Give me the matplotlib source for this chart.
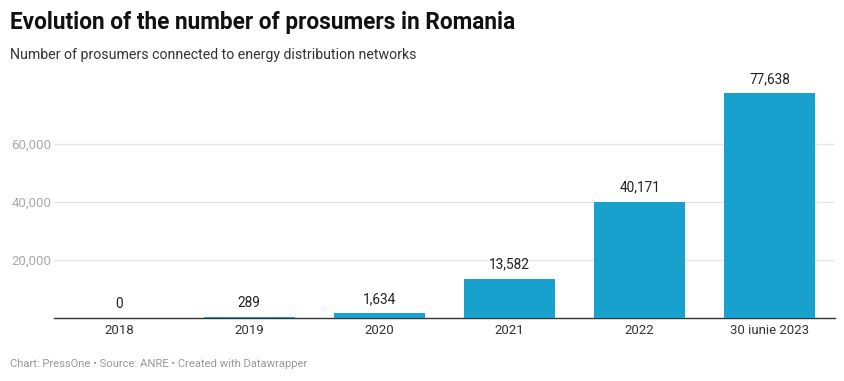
import matplotlib
matplotlib.use("Agg")
import matplotlib.pyplot as plt
from matplotlib.ticker import FuncFormatter

categories = ["2018", "2019", "2020", "2021", "2022", "30 iunie 2023"]
values = [0, 289, 1634, 13582, 40171, 77638]
yticks = [20000, 40000, 60000]

plt.rcParams['font.family'] = ['Roboto', 'DejaVu Sans']

W, H = 845, 381
fig = plt.figure(figsize=(W / 100, H / 100), dpi=100)
fig.patch.set_facecolor("white")

left, right = 54, 835
bottom_px, top_px = 318, 86
ax = fig.add_axes([left / W, 1 - bottom_px / H, (right - left) / W, (bottom_px - top_px) / H])

x = list(range(len(categories)))
bars = ax.bar(x, values, width=0.7, color="#18a1cd", zorder=3)
ax.set_xlim(-0.5, len(categories) - 0.5)
ax.set_ylim(0, 80000)

ax.set_yticks(yticks)
ax.yaxis.set_major_formatter(FuncFormatter(lambda v, p: f"{int(v):,}"))
ax.grid(axis="y", color="#e6e6e6", linewidth=1, zorder=0)
ax.tick_params(axis="y", length=0, labelsize=9.5, labelcolor="#aaaaaa", pad=2)
ax.set_xticks(x)
ax.set_xticklabels(categories)
ax.tick_params(axis="x", length=0, labelsize=9.5, labelcolor="#333333", pad=4)

for s in ["top", "right", "left"]:
    ax.spines[s].set_visible(False)
ax.spines["bottom"].set_color("#333333")
ax.spines["bottom"].set_linewidth(1)
ax.spines["bottom"].set_zorder(2)

for xi, v in zip(x, values):
    ax.annotate(f"{v:,}", (xi, v), xytext=(0, 5), textcoords="offset points",
                ha="center", va="bottom", fontsize=9.8, color="#222222")

fig.text(10 / W, 1 - 22 / H, "Evolution of the number of prosumers in Romania",
         fontsize=16.3, fontweight="bold", color="#111111", va="center", ha="left")
fig.text(10 / W, 1 - 55 / H, "Number of prosumers connected to energy distribution networks",
         fontsize=10.2, color="#333333", va="center", ha="left")
fig.text(10 / W, 1 - 364 / H, "Chart: PressOne \u2022 Source: ANRE \u2022 Created with Datawrapper",
         fontsize=8.1, color="#999999", va="center", ha="left")

fig.savefig("out.png", dpi=100, facecolor="white")
